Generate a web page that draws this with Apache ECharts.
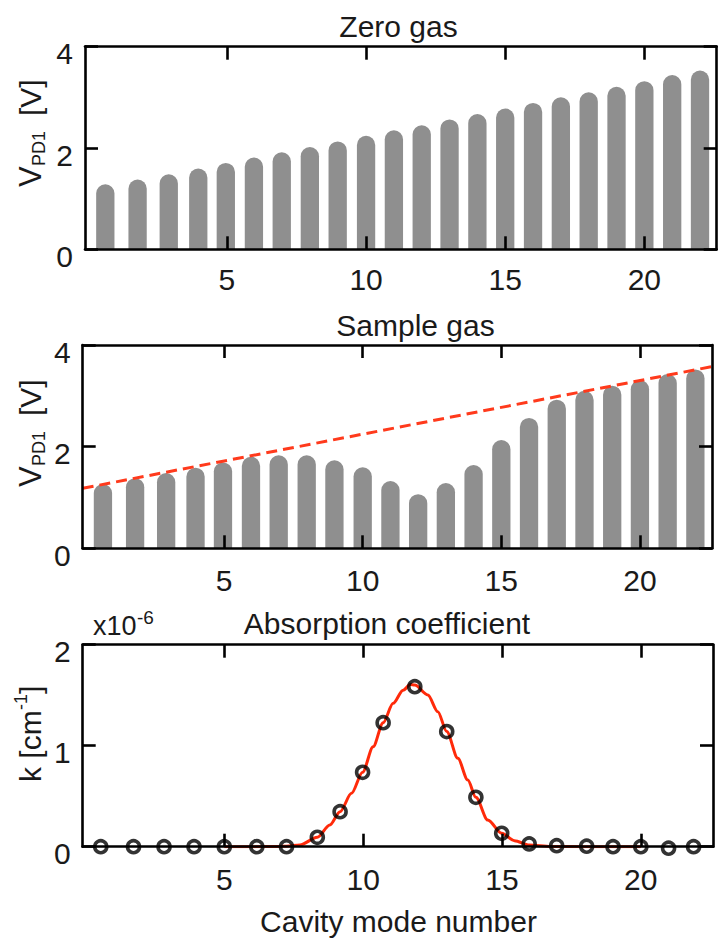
<!DOCTYPE html>
<html>
<head>
<meta charset="utf-8">
<script src="https://cdn.jsdelivr.net/npm/echarts@6/dist/echarts.min.js"></script>
<style>
html,body{margin:0;padding:0;background:#fff;}
#chart{width:718px;height:939px;}
</style>
</head>
<body>
<div id="chart"></div>
<script>
// ---- data ----
const modeX = [0.63, 1.79, 2.91, 3.97, 4.96, 5.97, 6.97, 7.98, 8.98, 10, 11, 12, 13, 14, 15, 16, 17, 18, 19, 20, 21, 22];
const zeroGas = [1.285, 1.378, 1.48, 1.594, 1.705, 1.81, 1.915, 2.02, 2.13, 2.24, 2.35, 2.45, 2.565, 2.67, 2.78, 2.89, 3.0, 3.10, 3.21, 3.32, 3.44, 3.53];
const sampleGas = [1.266, 1.38, 1.48, 1.587, 1.69, 1.80, 1.83, 1.83, 1.73, 1.595, 1.325, 1.065, 1.285, 1.64, 2.13, 2.565, 2.925, 3.10, 3.20, 3.31, 3.43, 3.52];
const baselineX = [-0.1, 22.6];
const baselineV = [1.18, 3.575];
const absX = [0.55, 1.73, 2.83, 3.91, 5.0, 6.17, 7.24, 8.35, 9.17, 9.98, 10.72, 11.86, 13.01, 14.06, 14.99, 15.98, 16.97, 18.05, 19.0, 20.0, 21.0, 21.9];
const absK = [0, 0, 0, 0, 0, 0, 0, 0.093, 0.347, 0.737, 1.228, 1.584, 1.14, 0.489, 0.133, 0.027, 0.01, 0.005, 0, 0, -0.015, 0];
const fitX = [5, 6, 7, 7.24, 7.72, 8.35, 8.8, 9.17, 9.58, 9.98, 10.36, 10.72, 11.08, 11.44, 11.7, 11.86, 12.33, 12.69, 13.01, 13.41, 13.77, 14.06, 14.49, 14.99, 15.45, 15.98, 16.76, 18, 20];
const fitK = [0, 0, 0.002, 0.005, 0.017, 0.093, 0.215, 0.347, 0.528, 0.737, 0.99, 1.228, 1.42, 1.55, 1.605, 1.60, 1.502, 1.337, 1.14, 0.875, 0.66, 0.489, 0.264, 0.133, 0.06, 0.017, 0.002, 0, 0];
const xTicks = [5, 10, 15, 20];
const xRange = [-0.1, 22.6];
const vRange = [0, 4];
const kRange = [0, 2];

// ---- styling ----
const FONT = '"Liberation Sans", Arial, Helvetica, sans-serif';
const INK = '#1a1a1a';
const FRAME = { color: '#000', width: 2.6 };

const zip = (a, b) => a.map((v, i) => [v, b[i]]);

const grids = [
  { left: 85, top: 46.7, width: 631.7, height: 202.6 },
  { left: 82.7, top: 345, width: 629.3, height: 203.3 },
  { left: 82.7, top: 644.7, width: 630.3, height: 202 }
].map(g => Object.assign({ outerBoundsMode: 'none', containLabel: false }, g));

const xLabelMargins = [15, 17, 18];
const xAxes = [];
const yAxes = [];
grids.forEach((g, i) => {
  xAxes.push({
    type: 'value', gridIndex: i, position: 'bottom', min: xRange[0], max: xRange[1], z: 10,
    axisLine: { show: true, onZero: false, lineStyle: FRAME },
    axisTick: { show: true, inside: true, length: 13, lineStyle: FRAME, customValues: xTicks },
    axisLabel: { show: true, customValues: xTicks, fontSize: 30, fontFamily: FONT, color: INK, margin: xLabelMargins[i] },
    splitLine: { show: false }
  });
  xAxes.push({
    type: 'value', gridIndex: i, position: 'top', min: xRange[0], max: xRange[1], z: 10,
    axisLine: { show: true, onZero: false, lineStyle: FRAME },
    axisTick: { show: true, inside: true, length: 13, lineStyle: FRAME, customValues: xTicks },
    axisLabel: { show: false, customValues: xTicks },
    splitLine: { show: false }
  });
  const r = i < 2 ? vRange : kRange;
  const iv = i < 2 ? 2 : 1;
  yAxes.push({
    type: 'value', gridIndex: i, position: 'left', min: r[0], max: r[1], interval: iv, z: 10,
    axisLine: { show: true, onZero: false, lineStyle: FRAME },
    axisTick: { show: true, inside: true, length: 13, lineStyle: FRAME },
    axisLabel: { show: true, fontSize: 30, fontFamily: FONT, color: INK, margin: 12, verticalAlign: 'top', lineHeight: 14 },
    splitLine: { show: false }
  });
  yAxes.push({
    type: 'value', gridIndex: i, position: 'right', min: r[0], max: r[1], interval: iv, z: 10,
    axisLine: { show: true, onZero: false, lineStyle: FRAME },
    axisTick: { show: true, inside: true, length: 13, lineStyle: FRAME },
    axisLabel: { show: false },
    splitLine: { show: false }
  });
});

const barStyle = { color: '#8f8f8f', borderRadius: [9.2, 9.2, 0, 0] };

const series = [
  { type: 'bar', xAxisIndex: 0, yAxisIndex: 0, data: zip(modeX, zeroGas), barWidth: 18.3, itemStyle: barStyle, z: 2 },
  { type: 'bar', xAxisIndex: 2, yAxisIndex: 2, data: zip(modeX, sampleGas), barWidth: 18.3, itemStyle: barStyle, z: 2 },
  { type: 'line', xAxisIndex: 2, yAxisIndex: 2, data: zip(baselineX, baselineV), symbol: 'none', z: 4,
    lineStyle: { color: '#ff3a1c', width: 3, type: [11, 6] } },
  { type: 'line', xAxisIndex: 4, yAxisIndex: 4, data: zip(fitX, fitK), symbol: 'none', smooth: 0.3, smoothMonotone: 'x', z: 3,
    lineStyle: { color: '#ff2a0a', width: 3 } },
  { type: 'scatter', xAxisIndex: 4, yAxisIndex: 4, data: zip(absX, absK), symbol: 'circle', symbolSize: 12, clip: false, z: 5,
    itemStyle: { color: 'rgba(255,255,255,0)', borderColor: '#000', borderWidth: 3.6 } }
];

const T = (text, x, y, size) => ({
  type: 'text', x: x, y: y,
  style: { text: text, fontSize: size, fontFamily: FONT, fill: INK, textAlign: 'center', align: 'center', textVerticalAlign: 'middle', verticalAlign: 'middle' }
});
const TL = (text, x, y, size) => ({
  type: 'text', x: x, y: y,
  style: { text: text, fontSize: size, fontFamily: FONT, fill: INK, textAlign: 'left', align: 'left', textVerticalAlign: 'middle', verticalAlign: 'middle' }
});

const vLabel = (cx, cy) => ({
  type: 'group', x: cx, y: cy, rotation: Math.PI / 2,
  children: [
    TL('V', -57, 0, 31),
    TL('PD1', -36, 9, 18),
    TL('[V]', 14, 0, 30)
  ]
});

const graphic = [
  T('Zero gas', 398.5, 26, 30),
  T('Sample gas', 415.5, 325, 30),
  T('Absorption coefficient', 387, 623, 30),
  T('Cavity mode number', 398.5, 921, 30),
  TL('x10', 93, 626, 27),
  TL('-6', 137, 617, 19),
  vLabel(30, 130),
  vLabel(30, 430),
  {
    type: 'group', x: 30, y: 732, rotation: Math.PI / 2,
    children: [
      TL('k [cm', -50, 0, 30),
      TL('-1', 22, -9, 18),
      TL(']', 38, 0, 30)
    ]
  }
];

const chart = echarts.init(document.getElementById('chart'), null, { renderer: 'svg' });
chart.setOption({
  animation: false,
  backgroundColor: '#fff',
  textStyle: { fontFamily: FONT },
  grid: grids,
  xAxis: xAxes,
  yAxis: yAxes,
  series: series,
  graphic: graphic
});
</script>
</body>
</html>
